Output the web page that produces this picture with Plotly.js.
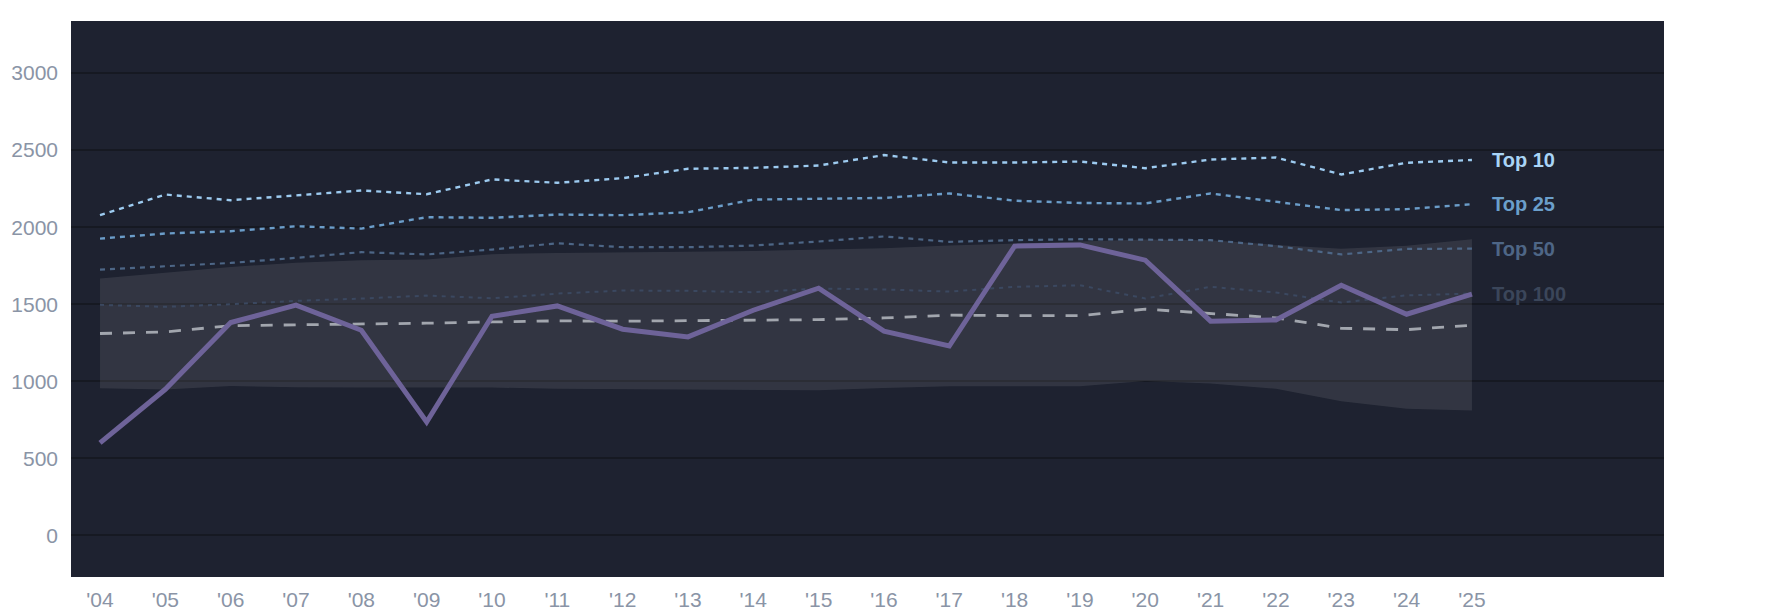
<!DOCTYPE html>
<html>
<head>
<meta charset="utf-8">
<script src="https://cdn.plot.ly/plotly-3.0.1.min.js"></script>
<style>
  html, body { margin: 0; padding: 0; background: #ffffff; }
  #chart { width: 1785px; height: 614px; }
</style>
</head>
<body>
<div id="chart"></div>
<script>
const years = [2004, 2005, 2006, 2007, 2008, 2009, 2010, 2011, 2012, 2013, 2014,
  2015, 2016, 2017, 2018, 2019, 2020, 2021, 2022, 2023, 2024, 2025];
const yearLabels = ["'04", "'05", "'06", "'07", "'08", "'09", "'10", "'11", "'12", "'13", "'14",
  "'15", "'16", "'17", "'18", "'19", "'20", "'21", "'22", "'23", "'24", "'25"];

const top10 = [2078, 2212, 2175, 2208, 2238, 2214, 2310, 2288, 2318, 2379, 2385,
  2400, 2468, 2420, 2420, 2426, 2383, 2439, 2452, 2342, 2418, 2436];
const top25 = [1926, 1959, 1974, 2006, 1991, 2065, 2061, 2082, 2078, 2097, 2179,
  2184, 2190, 2219, 2172, 2157, 2154, 2219, 2163, 2111, 2117, 2149];
const top50 = [1725, 1747, 1768, 1801, 1838, 1823, 1855, 1896, 1870, 1870, 1881,
  1907, 1940, 1905, 1916, 1922, 1918, 1916, 1877, 1823, 1859, 1861];
const top100 = [1496, 1483, 1500, 1522, 1537, 1556, 1539, 1569, 1589, 1587, 1578,
  1602, 1596, 1582, 1613, 1623, 1537, 1613, 1576, 1511, 1558, 1569];
const median = [1310, 1320, 1361, 1366, 1370, 1377, 1385, 1392, 1390, 1394, 1394,
  1400, 1411, 1429, 1426, 1426, 1468, 1439, 1412, 1344, 1335, 1364];
const bandHigh = [1667, 1703, 1742, 1770, 1786, 1790, 1825, 1833, 1835, 1840, 1846,
  1855, 1863, 1881, 1894, 1907, 1920, 1916, 1885, 1860, 1880, 1922];
const bandLow = [955, 946, 970, 961, 959, 961, 959, 952, 950, 948, 944,
  942, 957, 968, 968, 968, 1002, 985, 952, 870, 822, 811];
const value = [600, 948, 1381, 1494, 1331, 736, 1422, 1489, 1338, 1288, 1461,
  1604, 1325, 1229, 1877, 1885, 1786, 1390, 1398, 1623, 1435, 1565];

const tiers = [
  {name: 'Top 10', y: top10, color: '#9dcbf0', label: '#a9d4f6', dash: '5px,5px', width: 2.4},
  {name: 'Top 25', y: top25, color: '#6b9dc9', label: '#6b9fcb', dash: '5px,5px', width: 2.4},
  {name: 'Top 50', y: top50, color: '#4d6686', label: '#4e6686', dash: '5px,5px', width: 2.2},
  {name: 'Top 100', y: top100, color: '#3b4860', label: '#3b465a', dash: '4px,5px', width: 2},
];

const traces = [{
  x: years, y: bandLow,
  mode: 'lines', line: {width: 0}, hoverinfo: 'skip', showlegend: false,
}, {
  x: years, y: bandHigh,
  mode: 'lines', line: {width: 0}, fill: 'tonexty',
  fillcolor: 'rgba(255,255,255,0.09)', hoverinfo: 'skip', showlegend: false,
}];

tiers.slice().reverse().forEach((t) => {
  traces.push({
    x: years, y: t.y, name: t.name,
    mode: 'lines',
    line: {color: t.color, width: t.width, dash: t.dash},
    showlegend: false,
  });
});

traces.push({
  x: years, y: median,
  mode: 'lines',
  line: {color: '#a2a6ae', width: 2.8, dash: '12px,11px'},
  showlegend: false,
});

traces.push({
  x: years, y: value,
  mode: 'lines',
  line: {color: '#6e6399', width: 5},
  showlegend: false,
});

const annotations = tiers.map((t) => ({
  x: years[years.length - 1],
  y: t.y[t.y.length - 1],
  xref: 'x', yref: 'y',
  text: t.name,
  showarrow: false,
  xanchor: 'left',
  yanchor: 'middle',
  xshift: 18,
  font: {family: 'Liberation Sans, Arial, sans-serif', size: 20, color: t.label, weight: 'bold'},
}));

Plotly.newPlot('chart', traces, {
  width: 1785,
  height: 614,
  margin: {l: 71, r: 121, t: 21, b: 37},
  paper_bgcolor: '#ffffff',
  plot_bgcolor: '#1e2230',
  font: {family: 'Liberation Sans, Arial, sans-serif', size: 21, color: '#8a94a6'},
  showlegend: false,
  xaxis: {
    range: [2003.556, 2027.94],
    tickvals: years,
    ticktext: yearLabels,
    showgrid: false,
    zeroline: false,
    showline: false,
    ticks: '',
    ticklabelstandoff: 8,
    tickfont: {size: 21, color: '#8a94a6'},
  },
  yaxis: {
    range: [-270, 3338],
    tickvals: [0, 500, 1000, 1500, 2000, 2500, 3000],
    gridcolor: '#161922',
    gridwidth: 2,
    zeroline: false,
    showline: false,
    ticks: '',
    ticklabelstandoff: 12,
    tickfont: {size: 21, color: '#8a94a6'},
  },
  annotations: annotations,
}, {displayModeBar: false});
</script>
</body>
</html>
